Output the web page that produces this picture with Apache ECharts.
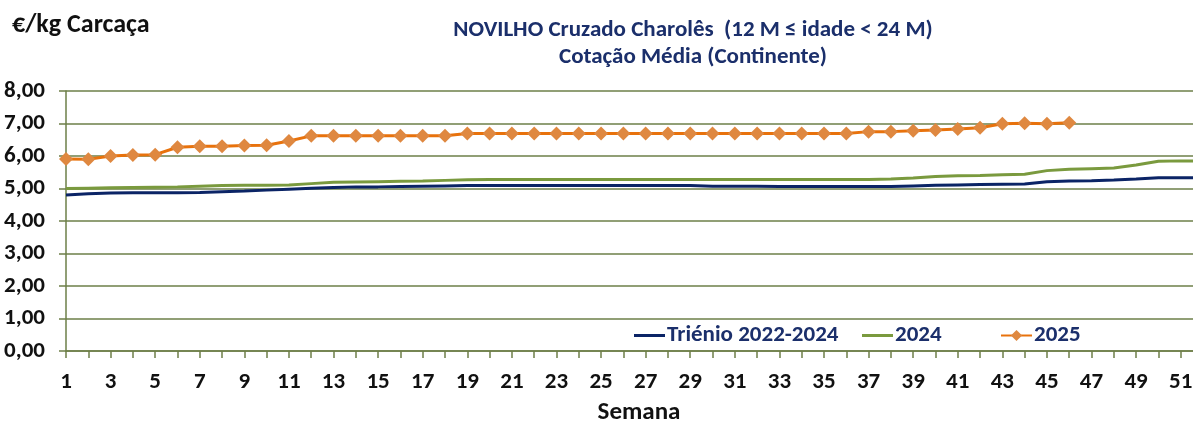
<!DOCTYPE html>
<html>
<head>
<meta charset="utf-8">
<script src="https://cdn.jsdelivr.net/npm/echarts@6/dist/echarts.min.js"></script>
<style>
html,body{margin:0;padding:0;background:#fff;overflow:hidden;}
#c{width:1203px;height:427px;}
</style>
</head>
<body>
<div id="c"></div>
<script>
var weeks = [];
for (var i = 1; i <= 52; i++) weeks.push(String(i));

var trienio = [4.80,4.84,4.86,4.87,4.87,4.87,4.88,4.90,4.92,4.95,4.98,5.01,5.03,5.05,5.05,5.06,5.07,5.08,5.09,5.09,5.09,5.09,5.09,5.09,5.09,5.09,5.09,5.09,5.09,5.07,5.07,5.07,5.06,5.06,5.06,5.06,5.06,5.06,5.08,5.10,5.11,5.12,5.13,5.14,5.21,5.23,5.24,5.26,5.29,5.33,5.33,5.33];
var y2024 = [5.00,5.01,5.02,5.03,5.04,5.05,5.07,5.09,5.10,5.10,5.11,5.15,5.19,5.20,5.21,5.22,5.23,5.25,5.27,5.28,5.28,5.28,5.28,5.28,5.28,5.28,5.28,5.28,5.28,5.28,5.28,5.28,5.28,5.28,5.28,5.28,5.28,5.29,5.32,5.37,5.39,5.40,5.42,5.44,5.55,5.59,5.61,5.63,5.72,5.84,5.85,5.85];
var y2025 = [5.91,5.90,6.00,6.03,6.04,6.27,6.30,6.30,6.32,6.33,6.46,6.62,6.62,6.62,6.62,6.62,6.62,6.62,6.69,6.69,6.69,6.69,6.69,6.69,6.69,6.69,6.69,6.69,6.69,6.69,6.69,6.69,6.69,6.69,6.69,6.69,6.75,6.75,6.78,6.80,6.83,6.87,6.99,7.01,6.99,7.02];

var seriesNames = ['Triénio 2022-2024','2024','2025'];

var FONT = 'Carlito, Lato, "Liberation Sans", sans-serif';
var NAVY = '#0B2466';
var GREEN = '#7A9A3E';
var ORANGE = '#E8720C';
var GRIDC = '#6D7F48';
var TXTBLUE = '#1B2F6B';

var chart = echarts.init(document.getElementById('c'));
function legendAt(name, left, lineOnly) {
  var l = {
    data: [name], left: left, top: 324, itemWidth: 31, itemHeight: 14, itemGap: 0,
    textStyle: {color: TXTBLUE, fontFamily: FONT, fontWeight: 'bold', fontSize: 23, padding: [0,0,0,-3]},
    padding: 0
  };
  if (lineOnly) { l.icon = 'rect'; l.itemHeight = 3; }
  return l;
}
chart.setOption({
  animation: false,
  title: [
    {text: '€/kg Carcaça', left: 7, top: 7, textStyle: {fontFamily: FONT, fontWeight: 'bold', fontSize: 26, color: '#111'}},
    {text: 'NOVILHO Cruzado Charolês  (12 M ≤ idade < 24 M)', left: 688, top: 14, textAlign: 'center',
     textStyle: {fontFamily: FONT, fontWeight: 'bold', fontSize: 23, color: TXTBLUE}},
    {text: 'Cotação Média (Continente)', left: 688, top: 41, textAlign: 'center',
     textStyle: {fontFamily: FONT, fontWeight: 'bold', fontSize: 23, color: TXTBLUE}},
    {text: 'Semana', left: 634, top: 395, textAlign: 'center',
     textStyle: {fontFamily: FONT, fontWeight: 'bold', fontSize: 25, color: '#111'}}
  ],
  legend: [legendAt(seriesNames[0], 634, true), legendAt(seriesNames[1], 862, true), legendAt(seriesNames[2], 1000, false)],
  grid: {left: 66, right: 0, top: 91, bottom: 76},
  xAxis: {
    type: 'category', data: weeks, boundaryGap: false,
    axisLine: {lineStyle: {color: GRIDC, width: 1.5}},
    axisTick: {show: true, interval: 0, length: 7, lineStyle: {color: GRIDC, width: 1.5}},
    axisLabel: {interval: 1, margin: 20, fontFamily: FONT, fontWeight: 'bold', fontSize: 23, color: '#111'}
  },
  yAxis: {
    type: 'value', min: 0, max: 8, interval: 1,
    axisLine: {show: true, lineStyle: {color: GRIDC, width: 1.5}},
    axisTick: {show: true, length: 7, lineStyle: {color: GRIDC, width: 1.5}},
    splitLine: {lineStyle: {color: GRIDC, width: 1.5}},
    axisLabel: {margin: 21, fontFamily: FONT, fontWeight: 'bold', fontSize: 23, color: '#111',
      formatter: function (v) { return v.toFixed(2).replace('.', ','); }}
  },
  series: [
    {name: seriesNames[0], type: 'line', data: trienio, symbol: 'none', lineStyle: {color: NAVY, width: 3}, itemStyle: {color: NAVY}},
    {name: seriesNames[1], type: 'line', data: y2024, symbol: 'none', lineStyle: {color: GREEN, width: 3}, itemStyle: {color: GREEN}},
    {name: seriesNames[2], type: 'line', data: y2025, symbol: 'diamond', symbolSize: 14, lineStyle: {color: ORANGE, width: 3}, itemStyle: {color: '#DF8840'}}
  ]
});
</script>
</body>
</html>
